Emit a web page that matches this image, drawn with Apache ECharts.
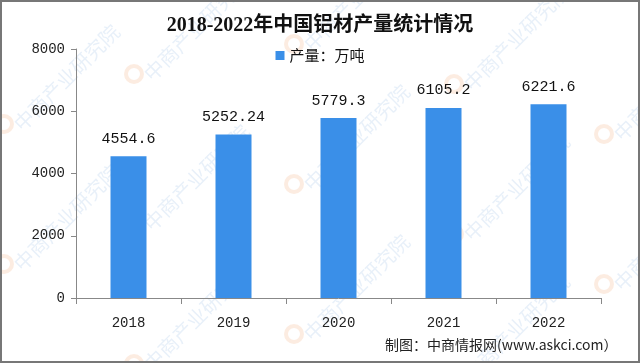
<!DOCTYPE html>
<html><head><meta charset="utf-8">
<script src="https://cdn.jsdelivr.net/npm/echarts@6/dist/echarts.min.js"></script>
<style>html,body{margin:0;padding:0;background:#fff}#c{width:640px;height:363px}</style>
</head><body><div id="c"></div>
<script>
const categories = ['2018','2019','2020','2021','2022'];
const production = [4554.6, 5252.24, 5779.3, 6105.2, 6221.6];
const valueLabels = ['4554.6','5252.24','5779.3','6105.2','6221.6'];
const yTicks = [0, 2000, 4000, 6000, 8000];
const titleText = '2018-2022年中国铝材产量统计情况';
const legendName = '产量：万吨';
const sourceText = '制图：中商情报网(www.askci.com）';

const chart = echarts.init(document.getElementById('c'));
const wm = [];
const wmPos = [[10,120],[10,260],[140,70],[140,220],[140,360],[300,40],[300,180],[300,330],[460,80],[460,230],[460,370],[610,130],[610,280]];
wmPos.forEach(p => {
  wm.push({type:'text', x:p[0], y:p[1], rotation:Math.PI/4, silent:true, z:-1,
    style:{text:'中商产业研究院', fill:'rgba(110,160,215,0.16)', font:'20px "Noto Sans CJK SC"'}});
  wm.push({type:'circle', shape:{cx:p[0]-6, cy:p[1]+4, r:8}, silent:true, z:-1,
    style:{fill:'none', stroke:'rgba(240,150,90,0.18)', lineWidth:4}});
});
wm.push({type:'rect', shape:{x:1,y:1,width:638,height:361}, style:{fill:'none', stroke:'#777', lineWidth:2}, silent:true});
wm.push({type:'text', x:385, y:338, style:{text:sourceText, fill:'#222', font:'14px "Noto Sans CJK SC"'}});

chart.setOption({
  animation:false,
  title:{text:titleText, left:'center', top:11, textStyle:{fontSize:20, fontWeight:'bold', color:'#111', fontFamily:'"Liberation Serif","Noto Sans CJK SC"'}},
  legend:{top:43, left:'center', itemWidth:9, itemHeight:9, icon:'rect', itemGap:4,
    textStyle:{fontSize:15, color:'#111', fontFamily:'"Noto Sans CJK SC"'}},
  grid:{left:76, right:39, top:49, bottom:65},
  xAxis:{type:'category', data:categories,
    axisLine:{lineStyle:{color:'#888'}}, axisTick:{show:true, length:6, lineStyle:{color:'#888'}},
    axisLabel:{fontSize:14, color:'#222', margin:18, fontFamily:'"Liberation Mono","DejaVu Sans Mono"'}},
  yAxis:{type:'value', min:yTicks[0], max:yTicks[yTicks.length-1], interval:2000,
    axisLine:{show:true, lineStyle:{color:'#888'}}, axisTick:{show:true, length:5, lineStyle:{color:'#888'}},
    splitLine:{show:false},
    axisLabel:{fontSize:14, color:'#222', margin:11, fontFamily:'"Liberation Mono","DejaVu Sans Mono"', formatter:v=>String(v)}},
  series:[{type:'bar', name:legendName, data:production, barWidth:36,
    itemStyle:{color:'#3a8fe8'},
    label:{show:true, position:'top', distance:10, fontSize:15, color:'#111', fontFamily:'"Liberation Mono","DejaVu Sans Mono"',
      formatter:p=>valueLabels[p.dataIndex]}}],
  graphic:wm
});
</script></body></html>
